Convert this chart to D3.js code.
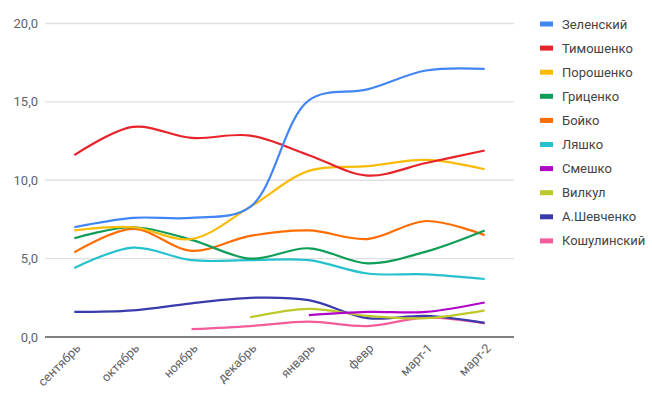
<!DOCTYPE html>
<html>
<head>
<meta charset="utf-8">
<script src="https://cdn.jsdelivr.net/npm/d3@7"></script>
<style>
  body { margin: 0; background: #fff; }
  svg { display: block; font-family: Roboto, Arial, sans-serif; }
</style>
</head>
<body>
<svg id="chart" width="652" height="399"></svg>
<script>
const months = ['сентябрь', 'октябрь', 'ноябрь', 'декабрь', 'январь', 'февр', 'март-1', 'март-2'];
const yTicks = [0, 5, 10, 15, 20];

const names = ['Зеленский', 'Тимошенко', 'Порошенко', 'Гриценко', 'Бойко', 'Ляшко', 'Смешко', 'Вилкул', 'А.Шевченко', 'Кошулинский'];
const colors = ['#4285F4', '#E8232A', '#F9BB05', '#0F9D58', '#FF6D01', '#25C1CC', '#B005C9', '#BDC82A', '#3A3AAD', '#F25C9C'];

// null = no poll value for that month
const zelensky   = [7.0, 7.6, 7.6, 8.3, 15.1, 15.8, 17.0, 17.1];
const tymoshenko = [11.6, 13.4, 12.7, 12.85, 11.6, 10.3, 11.1, 11.9];
const poroshenko = [6.8, 7.0, 6.25, 8.3, 10.6, 10.9, 11.3, 10.7];
const hrytsenko  = [6.3, 7.0, 6.2, 5.0, 5.66, 4.7, 5.45, 6.8];
const boyko      = [5.4, 6.9, 5.5, 6.45, 6.8, 6.25, 7.4, 6.5];
const lyashko    = [4.4, 5.7, 4.9, 4.9, 4.9, 4.05, 4.0, 3.7];
const smeshko    = [null, null, null, null, 1.4, 1.6, 1.6, 2.2];
const vilkul     = [null, null, null, 1.25, 1.8, 1.35, 1.2, 1.7];
const shevchenko = [1.6, 1.7, 2.15, 2.5, 2.35, 1.2, 1.35, 0.9];
const koshulinsky = [null, null, 0.5, 0.7, 0.98, 0.7, 1.23, 0.87];

const seriesValues = [zelensky, tymoshenko, poroshenko, hrytsenko, boyko, lyashko, smeshko, vilkul, shevchenko, koshulinsky];

const svg = d3.select('#chart');
const plotLeft = 45, plotRight = 514, plotTop = 23.5, plotBottom = 337;

const x = d3.scalePoint().domain(months).range([plotLeft, plotRight]).padding(0.5);
const y = d3.scaleLinear().domain([0, 20]).range([plotBottom, plotTop]);

// grid
svg.append('g')
  .selectAll('line')
  .data(yTicks)
  .join('line')
  .attr('x1', plotLeft).attr('x2', plotRight)
  .attr('y1', d => y(d)).attr('y2', d => y(d))
  .attr('stroke', d => d === 0 ? '#555' : '#e0e0e0')
  .attr('stroke-width', 1.3);

// y labels
svg.append('g')
  .selectAll('text')
  .data(yTicks)
  .join('text')
  .attr('x', 38)
  .attr('y', d => y(d))
  .attr('dy', '0.35em')
  .attr('text-anchor', 'end')
  .attr('fill', '#5f6368')
  .attr('font-size', '13px')
  .text(d => d.toFixed(1).replace('.', ','));

// x labels
svg.append('g')
  .selectAll('text')
  .data(months)
  .join('text')
  .attr('transform', d => `translate(${x(d) + 7},${plotBottom + 12}) rotate(-45)`)
  .attr('text-anchor', 'end')
  .attr('fill', '#5f6368')
  .attr('font-size', '12.5px')
  .text(d => d);

// lines
const line = d3.line()
  .x(d => x(d.m))
  .y(d => y(d.v))
  .curve(d3.curveCatmullRom.alpha(0.5));

const plot = svg.append('g');
// draw in reverse so the first series stays on top
seriesValues.map((vals, i) => ({ i, pts: vals.map((v, j) => ({ m: months[j], v })) }))
  .reverse()
  .forEach(s => {
    plot.append('path')
      .datum(s.pts.filter(p => p.v != null))
      .attr('d', line)
      .attr('fill', 'none')
      .attr('stroke', colors[s.i])
      .attr('stroke-width', 2.2)
      .attr('stroke-linejoin', 'round');
  });

// legend
const legend = svg.append('g').attr('transform', 'translate(540,24)');
names.forEach((name, i) => {
  const row = legend.append('g').attr('transform', `translate(0,${i * 24.1})`);
  row.append('rect').attr('x', 0).attr('y', -2.5).attr('width', 13).attr('height', 5).attr('fill', colors[i]);
  row.append('text').attr('x', 22).attr('dy', '0.35em').attr('fill', '#444')
    .attr('font-size', '13px').text(name);
});
</script>
</body>
</html>
